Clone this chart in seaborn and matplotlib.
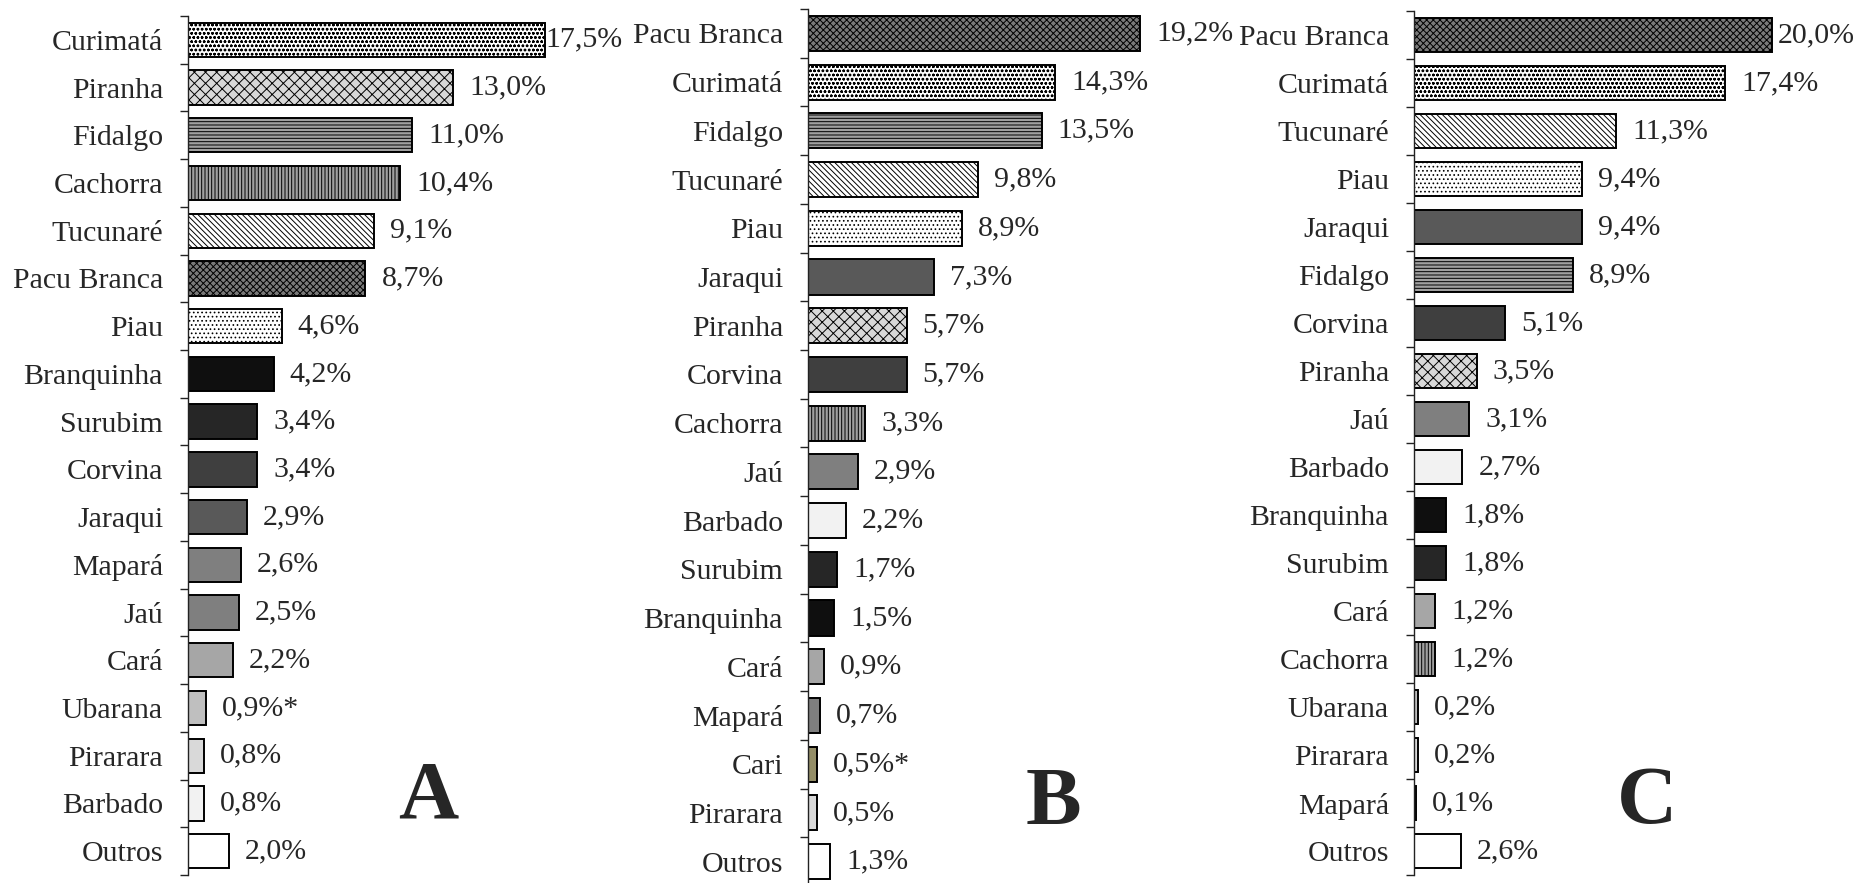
import matplotlib
matplotlib.use("Agg")
import matplotlib.pyplot as plt
import numpy as np
import pandas as pd
import seaborn as sns

# Panel A
species_a = ["Curimatá", "Piranha", "Fidalgo", "Cachorra", "Tucunaré", "Pacu Branca",
             "Piau", "Branquinha", "Surubim", "Corvina", "Jaraqui", "Mapará", "Jaú",
             "Cará", "Ubarana", "Pirarara", "Barbado", "Outros"]
values_a = [17.5, 13.0, 11.0, 10.4, 9.1, 8.7, 4.6, 4.2, 3.4, 3.4, 2.9, 2.6, 2.5,
            2.2, 0.9, 0.8, 0.8, 2.0]
marked_a = ["Ubarana"]

# Panel B
species_b = ["Pacu Branca", "Curimatá", "Fidalgo", "Tucunaré", "Piau", "Jaraqui",
             "Piranha", "Corvina", "Cachorra", "Jaú", "Barbado", "Surubim",
             "Branquinha", "Cará", "Mapará", "Cari", "Pirarara", "Outros"]
values_b = [19.2, 14.3, 13.5, 9.8, 8.9, 7.3, 5.7, 5.7, 3.3, 2.9, 2.2, 1.7, 1.5,
            0.9, 0.7, 0.5, 0.5, 1.3]
marked_b = ["Cari"]

# Panel C
species_c = ["Pacu Branca", "Curimatá", "Tucunaré", "Piau", "Jaraqui", "Fidalgo",
             "Corvina", "Piranha", "Jaú", "Barbado", "Branquinha", "Surubim",
             "Cará", "Cachorra", "Ubarana", "Pirarara", "Mapará", "Outros"]
values_c = [20.0, 17.4, 11.3, 9.4, 9.4, 8.9, 5.1, 3.5, 3.1, 2.7, 1.8, 1.8, 1.2,
            1.2, 0.2, 0.2, 0.1, 2.6]
marked_c = []

panel_letters = ["A", "B", "C"]

# species styling (fill colour, hatch)
fill = {
    "Curimatá": "#ffffff", "Piranha": "#d8d8d8", "Fidalgo": "#a0a0a0",
    "Cachorra": "#a0a0a0", "Tucunaré": "#ffffff", "Pacu Branca": "#7a7a7a",
    "Piau": "#ffffff", "Branquinha": "#0f0f0f", "Surubim": "#262626",
    "Corvina": "#3f3f3f", "Jaraqui": "#595959", "Mapará": "#7f7f7f",
    "Jaú": "#7f7f7f", "Cará": "#a6a6a6", "Ubarana": "#bfbfbf",
    "Pirarara": "#d9d9d9", "Barbado": "#f2f2f2", "Outros": "#ffffff",
    "Cari": "#9c945f",
}
hatches = {
    "Curimatá": "oooo", "Piranha": "xxx", "Fidalgo": "-----",
    "Cachorra": "|||||", "Tucunaré": "\\\\\\\\\\\\", "Pacu Branca": "xxxxx",
    "Piau": "....",
}

sns.set_style("white")
plt.rcParams["font.family"] = ["Liberation Serif", "DejaVu Serif"]
plt.rcParams["hatch.linewidth"] = 0.7

W, H = 1859, 883
fig = plt.figure(figsize=(W / 100, H / 100), dpi=100)

# axes boxes in pixels: left, top, bottom, px per %
boxes = [(188, 16, 875, 20.4), (808, 9, 886, 17.3), (1414, 11, 875, 17.9)]
top_pad = [0, 11.5, 4]
letter_pos = [(428, 818), (1053, 824), (1647, 823)]
XMAX = 21

panels = [(species_a, values_a, marked_a), (species_b, values_b, marked_b),
          (species_c, values_c, marked_c)]

for k, (sp, vals, marked) in enumerate(panels):
    left, top, bottom, ppu = boxes[k]
    ax = fig.add_axes([left / W, (H - bottom) / H, ppu * XMAX / W, (bottom - top) / H])
    ax.patch.set_visible(False)
    df = pd.DataFrame({"species": sp, "pct": vals})
    sns.barplot(data=df, y="species", x="pct", hue="species", palette=fill,
                order=sp, hue_order=sp, orient="h", width=0.72, legend=False,
                edgecolor="black", linewidth=1.4, ax=ax)
    n = len(sp)
    ax.set_xlim(0, XMAX)
    ax.set_ylim(n - 0.5, -0.5)
    ax.set_xlabel("")
    ax.set_ylabel("")
    ax.set_xticks([])
    for s in ["top", "right", "bottom"]:
        ax.spines[s].set_visible(False)
    ax.spines["left"].set_linewidth(1.0)
    ax.spines["left"].set_color("#222222")
    ax.set_yticks(np.arange(n))
    ax.set_yticklabels(sp, fontsize=21.5)
    ax.set_yticks(np.arange(n + 1) - 0.5, minor=True)
    ax.tick_params(axis="y", which="major", length=0, pad=18)
    ax.tick_params(axis="y", which="minor", length=6, width=1.0, color="#222222", left=True)

    for p in ax.patches:
        idx = int(round(p.get_y() + p.get_height() / 2))
        if idx < 0 or idx >= n or p.get_width() == 0:
            continue
        name = sp[idx]
        if name in hatches:
            p.set_hatch(hatches[name])
        txt = f"{vals[idx]:.1f}%".replace(".", ",")
        if name in marked:
            txt += "*"
        pad = top_pad[k] if idx == 0 else 11.5
        ax.annotate(txt, (p.get_width(), p.get_y() + p.get_height() / 2),
                    xytext=(pad, 0), textcoords="offset points",
                    ha="left", va="center", fontsize=21.5, annotation_clip=False)

    lx, ly = letter_pos[k]
    fig.text(lx / W, 1 - ly / H, panel_letters[k], ha="center", va="baseline",
             fontsize=60, fontweight="bold")

fig.savefig("out.png", dpi=100)
